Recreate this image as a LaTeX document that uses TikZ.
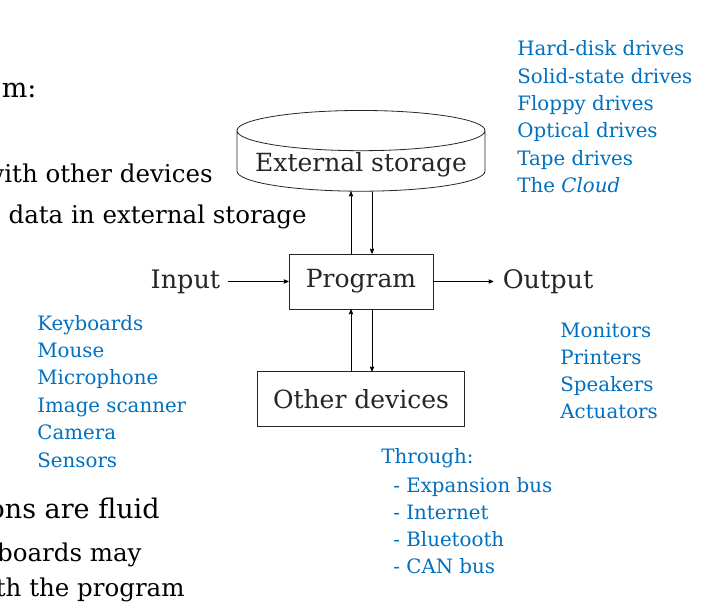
\documentclass[tikz,border=0pt]{standalone}
\usepackage{fontspec}
\setmainfont{DejaVu Serif}
\usetikzlibrary{%
  arrows,%
  shapes.geometric,% wg. cylinder
  positioning% wg. " of "
}
\definecolor{itemblue}{RGB}{0,112,192}
\definecolor{boxgray}{RGB}{38,38,38}

\begin{document}
\begin{tikzpicture}[
  x=1pt, y=-1pt, >=stealth', line width=0.8pt,
  slidetext/.style={anchor=base east, inner sep=0pt, text=black, font=\fontsize{24.5}{30}\selectfont},
  slidehead/.style={slidetext, font=\fontsize{27}{32}\selectfont},
  blueitem/.style={anchor=base west, inner sep=0pt, text=itemblue, font=\fontsize{19.8}{24}\selectfont},
  unit/.style={rectangle, draw=boxgray, text=boxgray, font=\fontsize{25}{30}\selectfont, inner sep=0pt},
  storage/.style={cylinder, shape border rotate=90, aspect=0.19, draw=boxgray, text=boxgray, font=\fontsize{25}{30}\selectfont, inner sep=0pt, text height=20pt, text depth=-22pt},
  flowtext/.style={inner sep=0pt, text=boxgray, font=\fontsize{25.5}{30}\selectfont},
  node distance=62pt
]
\fill[white] (0,0) rectangle (715,602);
\clip (0,0) rectangle (715,602);

% slide text, cut at the left
\node[slidehead] (s1) at (37,98) {m:};
\node[slidetext] (s2) at (213,182) {with other devices};
\node[slidetext] (s3) at (307,223) {data in external storage};
\node[slidehead] (s4) at (160,518) {ons are fluid};
\node[slidetext] (s5) at (142,561) {boards may};
\node[slidetext] (s6) at (185,596) {th the program};

% diagram
\node[unit, minimum width=144, minimum height=55] (prog) at (361,281.5) {Program};
\node[storage, minimum width=248, minimum height=78, above=of prog] (store) {External storage};
\node[unit, minimum width=207, minimum height=55, below=of prog] (dev) {Other devices};
\node[flowtext, left=68 of prog] (input) {Input};
\node[flowtext, right=69 of prog] (output) {Output};

\draw[->, shorten <=7pt] (input.east) -- (input.east -| prog.west);
\draw[->] (prog.east) -- ([xshift=-9]output.west);

\draw[->] ([xshift=-10]prog.north) -- ([xshift=-10]prog.north |- store.south);
\draw[->] ([xshift=11]store.south) -- ([xshift=11]prog.north);
\draw[->] ([xshift=-10]dev.north) -- ([xshift=-10]prog.south);
\draw[->] ([xshift=11]prog.south) -- ([xshift=11]dev.north);

% blue lists
\foreach \t [count=\i from 0] in {Hard-disk drives, Solid-state drives, Floppy drives, Optical drives, Tape drives, {The \textit{Cloud}}}
  \node[blueitem] (st\i) at (517,56+27.3*\i) {\t};

\foreach \t [count=\i from 0] in {Keyboards, Mouse, Microphone, Image scanner, Camera, Sensors}
  \node[blueitem] (in\i) at (37,330+27.4*\i) {\t};

\foreach \t [count=\i from 0] in {Monitors, Printers, Speakers, Actuators}
  \node[blueitem] (out\i) at (560,337+27.3*\i) {\t};

\node[blueitem] (via) at (381,463) {Through:};
\foreach \t [count=\i from 0] in {Expansion bus, Internet, Bluetooth, CAN bus}
  \node[blueitem] (via\i) at (393,492+27*\i) {- \t};
\end{tikzpicture}
\end{document}
